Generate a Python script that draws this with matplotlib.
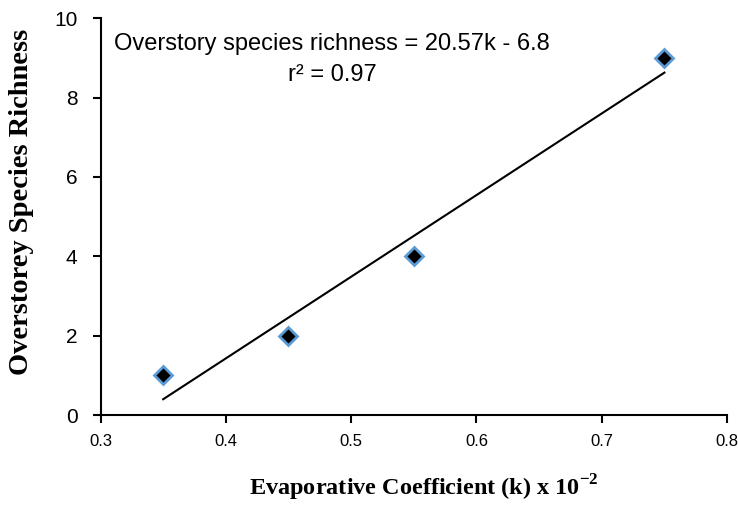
import numpy as np
import matplotlib.pyplot as plt

plt.rcParams['mathtext.fontset'] = 'custom'
plt.rcParams['mathtext.rm'] = 'Liberation Serif'
plt.rcParams['mathtext.bf'] = 'Liberation Serif:bold'

# evaporative coefficient (k) and overstory species richness
k = [0.35, 0.45, 0.55, 0.75]
richness = [1, 2, 4, 9]

x_ticks = [0.3, 0.4, 0.5, 0.6, 0.7, 0.8]
y_ticks = [0, 2, 4, 6, 8, 10]

slope, intercept = np.polyfit(k, richness, 1)
fit_x = np.array([min(k), max(k)])
fit_y = slope * fit_x + intercept

fig = plt.figure(figsize=(7.38, 5.05), dpi=100)
ax = fig.add_axes([0.1362, 0.178, 0.849, 0.786])

ax.plot(fit_x, fit_y, color='black', linewidth=1.5)
ax.plot(k, richness, linestyle='none', marker='D', markersize=9,
        markerfacecolor='black', markeredgecolor='#5B9BD5', markeredgewidth=2)

ax.set_xlim(0.3, 0.8)
ax.set_ylim(0, 10)
ax.set_xticks(x_ticks)
ax.set_yticks(y_ticks)
ax.set_xticklabels([f'{v:.1f}' for v in x_ticks], fontsize=12, family='Liberation Sans')
ax.set_yticklabels([str(v) for v in y_ticks], fontsize=15, family='Liberation Sans')
ax.tick_params(direction='out', length=5.5, width=1.5)
ax.tick_params(axis='y', pad=11)
ax.tick_params(axis='x', pad=8)
ax.spines['top'].set_visible(False)
ax.spines['right'].set_visible(False)
ax.spines['left'].set_linewidth(1.5)
ax.spines['bottom'].set_linewidth(1.5)

# regression equation
ax.text(0.485, 9.36, 'Overstory species richness = %.2fk - %.1f' % (slope, -intercept),
        ha='center', va='center', fontsize=17, family='Liberation Sans')
ax.text(0.485, 8.57, 'r² = 0.97', ha='center', va='center', fontsize=17, family='Liberation Sans')

ax.set_xlabel('Evaporative Coefficient (k) x 10$^{\\mathbf{-2}}$', fontsize=17.5,
              family='Liberation Serif', fontweight='bold')
ax.xaxis.set_label_coords(0.516, -0.145)
ax.set_ylabel('Overstorey Species Richness', fontsize=20.5, family='Liberation Serif',
              fontweight='bold')
ax.yaxis.set_label_coords(-0.106, 0.537)

plt.savefig('out.png', dpi=100)
